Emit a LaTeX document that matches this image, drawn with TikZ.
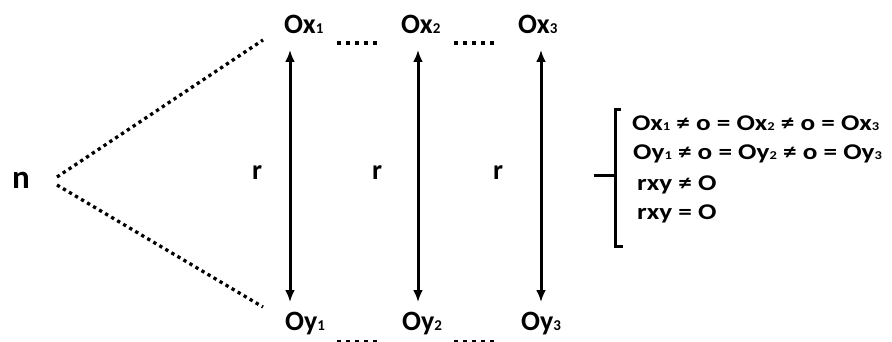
\documentclass[tikz,border=0pt]{standalone}
\usepackage{fontspec}
\setmainfont{Carlito}
\usetikzlibrary{arrows.meta}
\newcommand{\subd}[1]{{\fontsize{15}{15}\selectfont #1}}
\newcommand{\subr}[1]{{\fontsize{12}{12}\selectfont #1}}
\begin{document}
\begin{tikzpicture}[x=1pt,y=-1pt,
  lbl/.style={font=\fontsize{28}{30}\selectfont\bfseries, inner sep=0pt, anchor=base west},
  big/.style={font=\fontsize{33}{36}\selectfont\bfseries, inner sep=0pt, anchor=base west},
  rtxt/.style={font=\fontsize{22.5}{24}\selectfont\bfseries, inner sep=0pt, anchor=base west},
  dotln/.style={line width=3.3pt, dash pattern=on 3.3pt off 3.7pt},
  dotrow/.style={line width=4pt, dash pattern=on 4pt off 5pt},
  dbl/.style={line width=3pt, {Latex[length=12pt,width=10pt]}-{Latex[length=12pt,width=10pt]}},
  brk/.style={line width=3pt}]
\useasboundingbox (0,0) rectangle (892,342);
% labels
\node[big] (n) at (12,189) {n};
\node[lbl] (ox1) at (284,34) {Ox\subd{1}};
\node[lbl] (ox2) at (401,34) {Ox\subd{2}};
\node[lbl] (ox3) at (518,34) {Ox\subd{3}};
\node[lbl] (oy1) at (285,330) {Oy\subd{1}};
\node[lbl] (oy2) at (402,330) {Oy\subd{2}};
\node[lbl] (oy3) at (521,330) {Oy\subd{3}};
\node[lbl] (r1) at (252,180) {r};
\node[lbl] (r2) at (372,180) {r};
\node[lbl] (r3) at (493,180) {r};
% dotted connectors from n
\coordinate (na) at (57,177);
\coordinate (nb) at (57,185);
\coordinate (ta) at (263,40);
\coordinate (tb) at (263,307);
\draw[dotln] (na) -- (ta);
\draw[dotln] (nb) -- (tb);
% dotted rows
\coordinate (d1a) at (337,43); \coordinate (d1b) at (380,43);
\coordinate (d2a) at (454,43); \coordinate (d2b) at (497,43);
\coordinate (d3a) at (337,342); \coordinate (d3b) at (380,342);
\coordinate (d4a) at (454,342); \coordinate (d4b) at (497,342);
\draw[dotrow] (d1a) -- (d1b);
\draw[dotrow] (d2a) -- (d2b);
\draw[dotrow] (d3a) -- (d3b);
\draw[dotrow] (d4a) -- (d4b);
% arrows
\coordinate (a1t) at (290,50); \coordinate (a1b) at (290,302);
\coordinate (a2t) at (418,50); \coordinate (a2b) at (418,302);
\coordinate (a3t) at (541,50); \coordinate (a3b) at (541,302);
\draw[dbl] (a1t) -- (a1b);
\draw[dbl] (a2t) -- (a2b);
\draw[dbl] (a3t) -- (a3b);
% bracket
\coordinate (bt) at (621,110);
\coordinate (bb) at (623,246);
\coordinate (bm) at (615,176);
\coordinate (bl) at (594,176);
\draw[brk] (bt) -- (615,110) -- (615,246) -- (bb);
\draw[brk] (bl) -- (bm);
% right conditions
\node[rtxt] (c1) at (632,131) {\scalebox{1.21}[1]{Ox\subr{1} ≠ o = Ox\subr{2} ≠ o = Ox\subr{3}}};
\node[rtxt] (c2) at (633,160) {\scalebox{1.21}[1]{Oy\subr{1} ≠ o = Oy\subr{2} ≠ o = Oy\subr{3}}};
\node[rtxt] (c3) at (637,190) {\scalebox{1.21}[1]{rxy ≠ O}};
\node[rtxt] (c4) at (637,219) {\scalebox{1.21}[1]{rxy = O}};
\end{tikzpicture}
\end{document}
